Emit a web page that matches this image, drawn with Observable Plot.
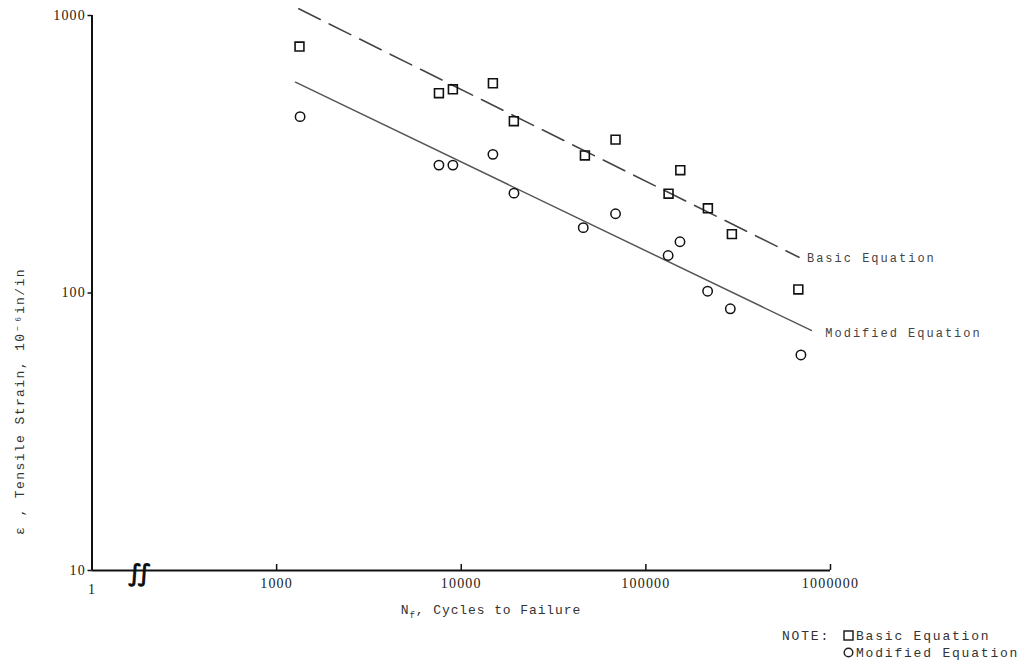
<!DOCTYPE html>
<html><head><meta charset="utf-8">
<script src="https://cdn.jsdelivr.net/npm/d3@7"></script>
<script src="https://cdn.jsdelivr.net/npm/@observablehq/plot@0.6"></script>
<style>
body{margin:0;background:#fff;}
#wrap{position:relative;width:1021px;height:665px;overflow:hidden;background:#fff;}
.mono{font-family:"Liberation Mono","DejaVu Sans Mono",monospace;color:#333;position:absolute;white-space:nowrap;}
g[aria-label="x-axis tick label"] text, g[aria-label="y-axis tick label"] text{letter-spacing:1.2px;}
</style></head><body><div id="wrap"></div>
<script>
// Data (log-log)
const cyclesBasic   = [1330, 7570, 9010, 14840, 19270, 46750, 68500, 132700, 153600, 216700, 292300, 669500];
const strainBasic   = [773, 525, 542, 570, 416, 313, 357, 228, 277, 202, 163, 103];
const cyclesModified = [1340, 7570, 9010, 14840, 19300, 45800, 68500, 132000, 153000, 216000, 286600, 691500];
const strainModified = [432, 289, 289, 316, 229, 172, 193, 136.5, 153, 101.5, 87.7, 59.8];

const basicLineCycles = [1318, 674800];
const basicLineStrain = [1057, 134.5];
const modifiedLineCycles = [1265, 787000];
const modifiedLineStrain = [575, 73.3];

const xTickValues = [100, 1000, 10000, 100000, 1000000];
const xTickLabels = ["1", "1000", "10000", "100000", "1000000"];
const yTickValues = [10, 100, 1000];
const yTickLabels = ["10", "100", "1000"];
const axisBreak = [176];

const lineLabels = ["Basic Equation", "Modified Equation"];
const yTitle = "ε , Tensile Strain, 10⁻⁶in/in";

const basicPts = cyclesBasic.map((c, i) => ({c, s: strainBasic[i]}));
const modPts = cyclesModified.map((c, i) => ({c, s: strainModified[i]}));
const basicLine = basicLineCycles.map((c, i) => ({c, s: basicLineStrain[i]}));
const modLine = modifiedLineCycles.map((c, i) => ({c, s: modifiedLineStrain[i]}));

const mono = "Liberation Mono, DejaVu Sans Mono, monospace";

const plot = Plot.plot({
  width: 1021, height: 665,
  marginLeft: 91.5, marginRight: 191, marginTop: 15, marginBottom: 95,
  x: {type: "log", domain: [100, 1e6]},
  y: {type: "log", domain: [10, 1000]},
  style: {fontFamily: "Liberation Serif, serif", fontSize: "14px", color: "#222", background: "#fff"},
  marks: [
    Plot.line(basicLine, {x: "c", y: "s", stroke: "#444", strokeWidth: 1.6, strokeDasharray: "24,10"}),
    Plot.line(modLine, {x: "c", y: "s", stroke: "#555", strokeWidth: 1.5}),
    Plot.dot(basicPts, {x: "c", y: "s", symbol: "square", r: 5, stroke: "#111", strokeWidth: 1.6, fill: "none"}),
    Plot.dot(modPts, {x: "c", y: "s", symbol: "circle", r: 4.7, stroke: "#111", strokeWidth: 1.5, fill: "none"}),
    Plot.text([basicLine[1]], {x: "c", y: "s", text: () => lineLabels[0], textAnchor: "start", dx: 8, dy: 1,
      fontFamily: mono, fontSize: 12, fill: "#444"}),
    Plot.text([modLine[1]], {x: "c", y: "s", text: () => lineLabels[1], textAnchor: "start", dx: 14, dy: 3,
      fontFamily: mono, fontSize: 12, fill: "#444"}),
    Plot.ruleY([10], {stroke: "#111", strokeWidth: 2}),
    Plot.ruleX([100], {stroke: "#111", strokeWidth: 2}),
    Plot.axisX({ticks: xTickValues, tickFormat: d => xTickLabels[xTickValues.indexOf(d)],
      tickSize: -6, tickPadding: 14, label: null, stroke: "#111", strokeWidth: 1.5}),
    Plot.axisY({ticks: yTickValues, tickFormat: d => yTickLabels[yTickValues.indexOf(d)],
      tickSize: 4, tickPadding: 2, label: null, stroke: "#111", strokeWidth: 1.5}),
    Plot.text(axisBreak, {x: d => d, y: 10, text: () => "∫∫", fontFamily: "DejaVu Sans", fontSize: 24,
      fill: "#111", dy: 3, fontWeight: "bold"}),
    Plot.text([yTitle], {frameAnchor: "left", text: d => d, rotate: -90, textAnchor: "middle", dx: -72.5, dy: 108.5,
      fontFamily: mono, fontSize: 13, fill: "#333"})
  ]
});
const wrap = document.getElementById("wrap");
wrap.appendChild(plot);

plot.querySelectorAll("text").forEach(t => {
  if (t.textContent === yTitle) t.setAttribute("letter-spacing", "1.4px");
  if (lineLabels.includes(t.textContent)) t.setAttribute("letter-spacing", "2px");
  if (t.textContent === "∫∫") t.setAttribute("letter-spacing", "-5px");
  if (t.textContent === "1") t.setAttribute("dy", "0.4em");
});

const xt = document.createElement("div");
xt.className = "mono";
xt.style.cssText = "left:491px;top:612px;transform:translate(-50%,-50%);font-size:13px;letter-spacing:0.9px;";
xt.innerHTML = "N<sub style='font-size:9px'>f</sub>, Cycles to Failure";
wrap.appendChild(xt);

const legend = document.createElement("div");
legend.className = "mono";
legend.style.cssText = "left:782px;top:628px;font-size:13px;letter-spacing:1.8px;line-height:17px;";
legend.innerHTML = "<div style='position:relative'>NOTE:<span style='position:absolute;left:61px;'>" +
  "<svg width='11' height='11' style='vertical-align:-1px;margin-right:2px'><rect x='1' y='1' width='9' height='9' fill='none' stroke='#222' stroke-width='1.5'/></svg>" +
  lineLabels[0] + "</span></div>" +
  "<div style='position:relative;height:17px'><span style='position:absolute;left:61px;'>" +
  "<svg width='11' height='11' style='vertical-align:-1px;margin-right:2px'><circle cx='5.5' cy='5.5' r='4.3' fill='none' stroke='#222' stroke-width='1.5'/></svg>" +
  lineLabels[1] + "</span></div>";
wrap.appendChild(legend);
</script>
</body></html>
